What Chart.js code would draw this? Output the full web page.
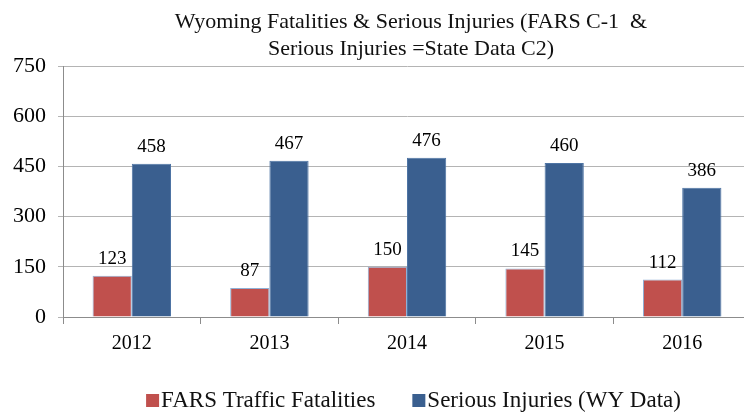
<!DOCTYPE html>
<html>
<head>
<meta charset="utf-8">
<script src="https://cdn.jsdelivr.net/npm/chart.js@4"></script>
<style>
  body { margin: 0; background: #fff; overflow: hidden; }
  #clip { width: 744px; height: 414px; overflow: hidden; }
  #wrap { width: 752px; height: 414px; }
</style>
</head>
<body>
<div id="clip"><div id="wrap"><canvas id="chart"></canvas></div></div>
<script>
// chart data
var years = ["2012", "2013", "2014", "2015", "2016"];
var fatalities = [123, 87, 150, 145, 112];
var injuries = [458, 467, 476, 460, 386];
var yTicks = [0, 150, 300, 450, 600, 750];
var seriesNames = ["FARS Traffic Fatalities", "Serious Injuries (WY Data)"];
var titleLines = ["Wyoming Fatalities & Serious Injuries (FARS C-1  &", "Serious Injuries =State Data C2)"];

var serif = "'Liberation Serif', 'Times New Roman', serif";
var red = "#C0504D";
var blue = "#3A5F8F";

//Two line title, centred a bit right of the canvas middle
var titleDraw = {
    id: 'titleDraw',
    afterDraw: function(chart){
        var ctx = chart.ctx;
        ctx.save();
        ctx.font = "22px " + serif;
        ctx.fillStyle = "#111";
        ctx.textAlign = "center";
        ctx.textBaseline = "alphabetic";
        var baselines = [28, 55];
        titleLines.forEach(function(line, i){
            ctx.fillText(line, 411, baselines[i]);
        });
        ctx.restore();
    }
};

//Draws the number above every bar
var barLabels = {
    id: 'barLabels',
    afterDatasetsDraw: function(chart){
        var ctx = chart.ctx;
        ctx.save();
        ctx.font = "19px " + serif;
        ctx.fillStyle = "#000";
        ctx.textAlign = "center";
        ctx.textBaseline = "alphabetic";
        chart.data.datasets.forEach(function(ds, i){
            chart.getDatasetMeta(i).data.forEach(function(bar, j){
                ctx.fillText(ds.data[j], bar.x, bar.y - 12);
            });
        });
        ctx.restore();
    }
};

//Legend at the bottom, boxes sit on the text baseline
var bottomLegend = {
    id: 'bottomLegend',
    afterDraw: function(chart){
        var ctx = chart.ctx;
        ctx.save();
        ctx.font = "23px " + serif;
        ctx.textBaseline = "alphabetic";
        ctx.textAlign = "left";
        var box = 13, gap = 2, itemGap = 37, baseline = 407;
        var widths = chart.data.datasets.map(function(ds){ return ctx.measureText(ds.label).width; });
        var total = widths[0] + widths[1] + 2 * (box + gap) + itemGap;
        var x = 413.5 - total / 2;
        chart.data.datasets.forEach(function(ds, i){
            ctx.fillStyle = ds.backgroundColor;
            ctx.fillRect(x, baseline - box, box, box);
            x += box + gap;
            ctx.fillStyle = "#111";
            ctx.fillText(ds.label, x, baseline);
            x += widths[i] + itemGap;
        });
        ctx.restore();
    }
};

var config = {
    type: 'bar',
    data: {
        labels: years,
        datasets: [
            {
                label: seriesNames[0],
                data: fatalities,
                backgroundColor: red,
                borderColor: "#8FB0D6",
                borderWidth: 1
            },
            {
                label: seriesNames[1],
                data: injuries,
                backgroundColor: blue,
                borderColor: "#4E74A4",
                borderWidth: 1
            }
        ]
    },
    options: {
        responsive: true,
        maintainAspectRatio: false,
        animation: false,
        layout: { padding: { left: 1, right: 1, top: 66, bottom: 50 } },
        datasets: { bar: { barPercentage: 1, categoryPercentage: 0.57 } },
        scales: {
            x: {
                grid: { display: true, drawOnChartArea: false, offset: true, tickLength: 7, color: "#8c8c8c" },
                border: { color: "#8c8c8c" },
                ticks: { color: "#000", font: { family: serif, size: 20 }, padding: 8 }
            },
            y: {
                min: 0,
                max: 750,
                afterBuildTicks: function(axis){
                    axis.ticks = yTicks.map(function(v){ return { value: v }; });
                },
                grid: { color: "#b4b4b4", tickLength: 5 },
                border: { color: "#8c8c8c" },
                ticks: { color: "#000", font: { family: serif, size: 22 }, padding: 12 }
            }
        },
        plugins: {
            title: { display: false },
            legend: { display: false },
            tooltip: { enabled: false }
        }
    },
    plugins: [barLabels, titleDraw, bottomLegend]
};

var chart = new Chart(document.getElementById("chart").getContext("2d"), config);
</script>
</body>
</html>
